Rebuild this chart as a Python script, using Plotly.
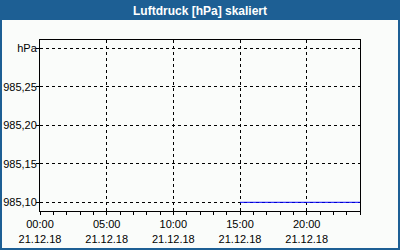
import plotly.graph_objects as go

# Data
times = ["2018-12-21 15:00", "2018-12-22 00:00"]
pressure = [985.10, 985.10]

x_tickvals = ["2018-12-21 00:00", "2018-12-21 05:00", "2018-12-21 10:00",
              "2018-12-21 15:00", "2018-12-21 20:00"]
x_ticktext = ["00:00<br>21.12.18", "05:00<br>21.12.18", "10:00<br>21.12.18",
              "15:00<br>21.12.18", "20:00<br>21.12.18"]
y_tickvals = [985.10, 985.15, 985.20, 985.25, 985.30]
y_ticktext = ["985,10", "985,15", "985,20", "985,25", "hPa"]

title_text = "Luftdruck [hPa] skaliert"

BG = "#fafcfa"
FRAME = "#1d5f94"
W, H = 400, 250
ML, MR, MT, MB = 40, 40, 40, 39
PW, PH = W - ML - MR, H - MT - MB

def px2x(px):
    return (px - ML) / PW

def py2y(py):
    return 1 - (py - MT) / PH

fig = go.Figure()
fig.add_trace(go.Scatter(x=times, y=pressure, mode="lines",
                         line=dict(color="#0000ff", width=1), hoverinfo="skip"))

fig.update_layout(
    template="none",
    autosize=False,
    width=W, height=H,
    margin=dict(l=ML, r=MR, t=MT, b=MB, pad=0, autoexpand=False),
    paper_bgcolor=BG, plot_bgcolor=BG,
    showlegend=False,
    font=dict(family="Liberation Sans, Arial, sans-serif", size=11, color="black"),
    title=dict(text="<b>" + title_text + "</b>", x=0.5, xanchor="center",
               y=1 - 10.5 / H, yanchor="middle", yref="container", automargin=False,
               font=dict(family="Liberation Sans, Arial, sans-serif", size=12, color="white")),
    xaxis=dict(
        type="date", automargin=False,
        range=["2018-12-21 00:00", "2018-12-22 00:00"],
        tickvals=x_tickvals, ticktext=x_ticktext,
        ticks="outside", ticklen=3, tickcolor="black", tickwidth=1,
        minor=dict(dtick=3600000, ticks="outside", ticklen=3, tickcolor="black", showgrid=False),
        showgrid=True, gridcolor="black", gridwidth=1, griddash="3px,3px",
        showline=True, linecolor="black", linewidth=1, mirror=True,
        zeroline=False, fixedrange=True,
    ),
    yaxis=dict(
        automargin=False,
        range=[985.0887, 985.3108],
        tickvals=y_tickvals, ticktext=y_ticktext,
        ticks="outside", ticklen=3, tickcolor="black", tickwidth=1,
        ticklabelstandoff=-3,
        showgrid=True, gridcolor="black", gridwidth=1, griddash="3px,3px",
        showline=True, linecolor="black", linewidth=1, mirror=True,
        zeroline=False, fixedrange=True,
    ),
    shapes=[
        dict(type="rect", xref="paper", yref="paper",
             x0=px2x(0), x1=px2x(W), y0=py2y(20), y1=py2y(0),
             fillcolor=FRAME, line=dict(width=0), layer="below"),
        dict(type="rect", xref="paper", yref="paper",
             x0=px2x(1), x1=px2x(W - 1), y0=py2y(H - 1), y1=py2y(1),
             fillcolor="rgba(0,0,0,0)", line=dict(color=FRAME, width=2), layer="above"),
    ],
)

fig.write_html("out.html", config={"displayModeBar": False})
